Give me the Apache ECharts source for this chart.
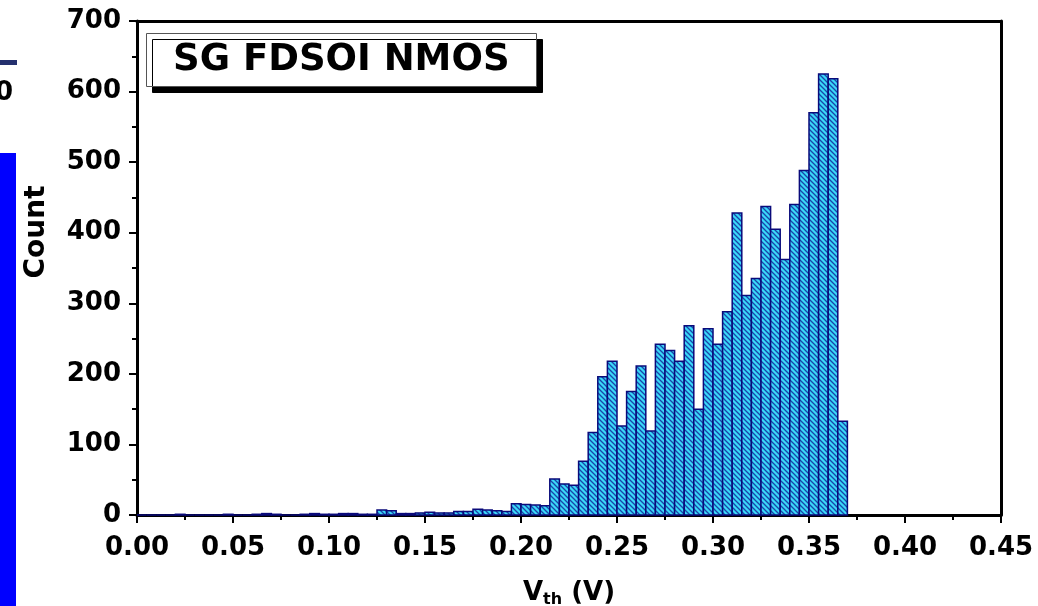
<!DOCTYPE html>
<html>
<head>
<meta charset="utf-8">
<script src="https://cdn.jsdelivr.net/npm/echarts@6/dist/echarts.min.js"></script>
<style>
html,body{margin:0;padding:0;background:#fff;}
#chart{width:1038px;height:606px;}
</style>
</head>
<body>
<div id="chart"></div>
<script>
// ---- data ----
const binWidth = 0.005;
const binStarts = [
  0.000,0.005,0.010,0.015,0.020,0.025,0.030,0.035,0.040,0.045,
  0.050,0.055,0.060,0.065,0.070,0.075,0.080,0.085,0.090,0.095,
  0.100,0.105,0.110,0.115,0.120,0.125,0.130,0.135,0.140,0.145,
  0.150,0.155,0.160,0.165,0.170,0.175,0.180,0.185,0.190,0.195,
  0.200,0.205,0.210,0.215,0.220,0.225,0.230,0.235,0.240,0.245,
  0.250,0.255,0.260,0.265,0.270,0.275,0.280,0.285,0.290,0.295,
  0.300,0.305,0.310,0.315,0.320,0.325,0.330,0.335,0.340,0.345,
  0.350,0.355,0.360,0.365
];
const counts = [
  0,0,0,0,1,0,0,0,0,1,
  0,0,1,2,1,0,0,1,2,1,
  1,2,2,1,1,7,6,2,2,3,
  4,3,3,5,5,8,7,6,5,16,
  15,14,13,51,44,42,76,117,196,218,
  126,175,211,119,242,233,218,268,150,264,
  242,288,428,311,335,437,405,362,440,488,
  570,625,618,133
];
const xTicks = {min:0, max:0.45, interval:0.05};
const yTicks = {min:0, max:700, interval:100};
const titleText = 'SG FDSOI NMOS';
const xName = '{v|V}{s|th}{v| (V)}';
const yName = 'Count';

// ---- hatch pattern ----
const pc = document.createElement('canvas');
pc.width = 5; pc.height = 5;
const g = pc.getContext('2d');
g.fillStyle = '#3ad8f8';
g.fillRect(0,0,5,5);
g.strokeStyle = '#1a44aa';
g.lineWidth = 1.3;
g.beginPath();
g.moveTo(-1,-1); g.lineTo(6,6);
g.moveTo(-1,4); g.lineTo(1,6);
g.moveTo(4,-1); g.lineTo(6,1);
g.stroke();
const hatch = {image: pc, repeat: 'repeat'};

const seriesData = binStarts.map((b,i)=>[b, counts[i]]);

const FONT = 'DejaVu Sans';
const chart = echarts.init(document.getElementById('chart'));
chart.setOption({
  animation:false,
  backgroundColor:'#ffffff',
  title:{
    text:titleText,
    left:146, top:33,
    padding:[8,27,8,27],
    backgroundColor:'#ffffff',
    borderColor:'#555',
    borderWidth:1,
    shadowColor:'#000',
    shadowBlur:0,
    shadowOffsetX:6,
    shadowOffsetY:6,
    textStyle:{fontFamily:FONT, fontWeight:'bold', fontSize:37, color:'#000', lineHeight:38}
  },
  grid:{left:137, right:37, top:21, bottom:91, containLabel:false, outerBoundsMode:'none'},
  xAxis:[{
    type:'value', min:xTicks.min, max:xTicks.max, interval:xTicks.interval,
    position:'bottom',
    axisLine:{show:true, onZero:false, lineStyle:{color:'#000', width:3}},
    axisTick:{show:true, inside:false, length:8, lineStyle:{color:'#000', width:2}},
    minorTick:{show:true, splitNumber:2, length:5, lineStyle:{color:'#000', width:2}},
    splitLine:{show:false},
    axisLabel:{margin:20, fontFamily:FONT, fontWeight:'bold', fontSize:26, color:'#000',
      formatter:v=>v.toFixed(2)},
    name:xName, nameLocation:'middle', nameGap:63,
    nameTextStyle:{
      rich:{
        v:{fontFamily:FONT, fontWeight:'bold', fontSize:26, color:'#000', lineHeight:30},
        s:{fontFamily:FONT, fontWeight:'bold', fontSize:16, color:'#000', lineHeight:30, verticalAlign:'bottom', padding:[10,0,0,0]}
      }
    }
  },{
    type:'value', min:xTicks.min, max:xTicks.max, position:'top',
    axisLine:{show:true, onZero:false, lineStyle:{color:'#000', width:3}},
    axisTick:{show:false}, axisLabel:{show:false}, splitLine:{show:false}
  }],
  yAxis:[{
    type:'value', min:yTicks.min, max:yTicks.max, interval:yTicks.interval,
    position:'left',
    axisLine:{show:true, onZero:false, lineStyle:{color:'#000', width:3}},
    axisTick:{show:true, inside:false, length:8, lineStyle:{color:'#000', width:2}},
    minorTick:{show:true, splitNumber:2, length:5, lineStyle:{color:'#000', width:2}},
    splitLine:{show:false},
    axisLabel:{margin:16, fontFamily:FONT, fontWeight:'bold', fontSize:26, color:'#000'},
    name:yName, nameLocation:'middle', nameGap:86,
    nameTextStyle:{fontFamily:FONT, fontWeight:'bold', fontSize:28, color:'#000', padding:[0,0,0,72]}
  },{
    type:'value', min:yTicks.min, max:yTicks.max, position:'right',
    axisLine:{show:true, onZero:false, lineStyle:{color:'#000', width:3}},
    axisTick:{show:false}, axisLabel:{show:false}, splitLine:{show:false}
  }],
  graphic:[
    {type:'rect', left:0, top:153, shape:{width:16, height:453}, style:{fill:'#0000ff'}, silent:true},
    {type:'rect', left:0, top:60, shape:{width:17, height:5}, style:{fill:'#24306e'}, silent:true},
    {type:'text', left:-5, top:80, style:{text:'0', font:'bold 26px "DejaVu Sans"', fill:'#000'}, silent:true}
  ],
  series:[{
    type:'custom',
    xAxisIndex:0, yAxisIndex:0,
    data:seriesData,
    renderItem:function(params, api){
      const x0 = api.value(0);
      const c = api.value(1);
      const p0 = api.coord([x0, c]);
      const p1 = api.coord([x0 + binWidth, 0]);
      return {
        type:'rect',
        shape:{x:p0[0], y:p0[1], width:p1[0]-p0[0], height:p1[1]-p0[1]},
        style:{fill:hatch, stroke:'#0a0a7a', lineWidth:1.5}
      };
    },
    z:1
  }]
});
</script>
</body>
</html>
